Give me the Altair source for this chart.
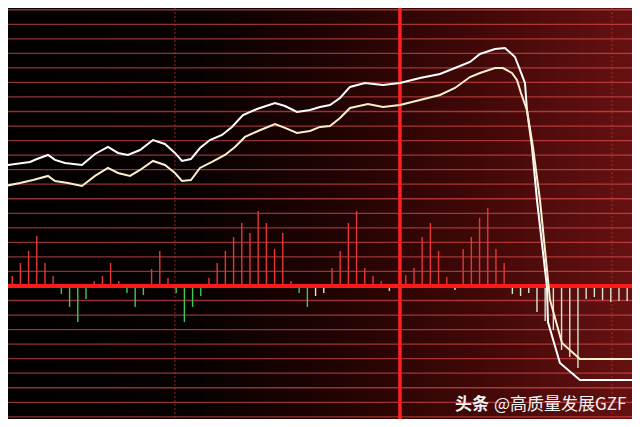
import altair as alt
import pandas as pd

# ---- data ----
# histogram bars, one per minute index (units = grid steps)
bar_values = [5.16, 0.69, 1.58, 2.41, 3.44, 1.58, 0.69, -0.55, -1.44, -2.48,
              -0.89, 0.34, 0.69, 1.58, 0.34, -0.48, -1.44, -0.62, 1.17, 2.41,
              0.55, -0.48, -2.48, -1.44, -0.69, 0.55, 1.58, 2.41, 3.37, 4.33,
              3.65, 5.16, 4.33, 2.54, 3.65, 0.34, -0.48, -1.44, -0.69, -0.48,
              1.24, 2.41, 4.33, 5.16, 1.24, 0.69, 0.34, -0.34, 0.0, 0.76,
              1.24, 3.37, 4.33, 2.41, 0.62, -0.28, 2.54, 3.37, 4.68, 5.36,
              2.54, 1.58, -0.55, -0.69, -0.48, -1.79, -2.41, -3.03, -4.40, -4.88,
              -5.64, -0.89, -0.76, -0.96, -1.10, -1.03, -1.03, -1.17]

upper_t = [-0.49, 3.17, 4.02, 5.37, 6.22, 7.44, 9.51, 11.10, 12.68, 13.90,
           15.12, 16.59, 18.17, 19.63, 20.85, 21.71, 22.80, 23.90, 25.12, 26.59,
           27.80, 29.15, 30.85, 33.05, 34.27, 35.73, 37.32, 38.54, 39.76, 40.98,
           42.20, 44.02, 46.22, 48.29, 50.73, 53.17, 55.00, 56.83, 58.05, 59.88,
           61.10, 62.32, 62.93, 63.54, 63.78, 64.39, 65.00, 66.22, 66.34, 67.80,
           70.24, 77.56]
upper_v = [8.25, 8.53, 8.73, 9.01, 8.67, 8.46, 8.32, 9.08, 9.56, 9.15,
           9.01, 9.35, 10.04, 9.77, 9.15, 8.60, 8.73, 9.49, 10.04, 10.39,
           10.94, 11.76, 12.17, 12.59, 12.38, 11.97, 12.10, 12.31, 12.45, 12.93,
           13.69, 13.96, 13.82, 13.96, 14.31, 14.58, 14.99, 15.41, 15.96, 16.30,
           16.37, 15.75, 14.86, 13.96, 12.10, 9.56, 5.91, -0.07, -2.48, -5.30,
           -6.46, -6.46]

lower_t = [-0.49, 1.95, 3.54, 5.37, 6.22, 7.80, 9.51, 11.10, 12.68, 13.90,
           15.37, 16.59, 18.17, 19.63, 20.85, 21.71, 22.80, 23.90, 25.37, 26.95,
           28.17, 29.39, 30.98, 33.05, 34.27, 35.73, 37.32, 38.54, 39.76, 40.98,
           42.20, 44.39, 46.22, 48.29, 50.73, 53.17, 55.00, 56.83, 58.05, 59.88,
           60.85, 61.95, 62.56, 63.05, 63.78, 64.51, 65.37, 66.59, 68.05, 70.24,
           77.56]
lower_v = [6.81, 7.08, 7.29, 7.57, 7.22, 7.08, 6.88, 7.57, 8.12, 7.77,
           7.57, 7.98, 8.60, 8.32, 7.77, 7.22, 7.29, 8.12, 8.53, 9.01,
           9.56, 10.25, 10.66, 11.14, 10.87, 10.52, 10.66, 10.94, 11.00, 11.55,
           12.24, 12.52, 12.31, 12.45, 12.79, 13.14, 13.62, 14.37, 14.65, 14.99,
           14.99, 14.65, 14.17, 13.27, 12.10, 9.56, 5.91, -0.96, -3.92, -5.02,
           -5.02]

grid_levels = list(range(-9, 20))
zero_level = [0]
divider_t = [48.29]
dotted_t = [20.85, 74.15]
watermark_bold = "头条"
watermark_rest = "@高质量发展GZF"

# ---- chart ----
W, H = 624, 411
xs = alt.Scale(domain=[0.49, 76.59], nice=False, zero=False)
ys = alt.Scale(domain=[-9.15, 19.12], nice=False, zero=False)

bars = pd.DataFrame({"t": list(range(len(bar_values))), "v": bar_values})
bars["base"] = 0.0
bars["kind"] = ["up" if v >= 0 else ("down_g" if t <= 37 else "down_w")
                for t, v in zip(bars["t"], bars["v"])]
up_df = pd.DataFrame({"t": upper_t, "v": upper_v})
lo_df = pd.DataFrame({"t": lower_t, "v": lower_v})
grid_df = pd.DataFrame({"v": grid_levels})
zero_df = pd.DataFrame({"v": zero_level})
div_df = pd.DataFrame({"t": divider_t})
dot_df = pd.DataFrame({"t": dotted_t})
one = pd.DataFrame({"a": [0]})

X = lambda: alt.X("t:Q", scale=xs, axis=None)
Y = lambda: alt.Y("v:Q", scale=ys, axis=None)

bg = alt.Chart(one).mark_rect(
    color=alt.Gradient(
        gradient="linear",
        stops=[alt.GradientStop(color="#030000", offset=0),
               alt.GradientStop(color="#080101", offset=0.3),
               alt.GradientStop(color="#200303", offset=0.52),
               alt.GradientStop(color="#420808", offset=0.76),
               alt.GradientStop(color="#661111", offset=1)],
        x1=0, x2=1, y1=0, y2=0)
).encode(x=alt.value(0), x2=alt.value(W), y=alt.value(0), y2=alt.value(H))

grid = alt.Chart(grid_df).mark_rule(color="#ff5c5c", opacity=0.55, strokeWidth=1.3).encode(y=Y())

dotted = alt.Chart(dot_df).mark_rule(color="#d03030", opacity=0.7, strokeWidth=1,
                                     strokeDash=[2, 2]).encode(x=X())

bar_layer = alt.Chart(bars).mark_rule(strokeWidth=1.4, clip=True).encode(
    x=X(), y=Y(), y2=alt.Y2("base:Q"),
    color=alt.Color("kind:N", legend=None,
                    scale=alt.Scale(domain=["up", "down_g", "down_w"],
                                    range=["#e43838", "#3ec85a", "#d8e6d4"])))

zero_line = alt.Chart(zero_df).mark_rule(color="#ff1a1a", strokeWidth=4).encode(y=Y())

divider = alt.Chart(div_df).mark_rule(color="#ff2020", strokeWidth=3.5).encode(x=X())

upper = alt.Chart(up_df).mark_line(color="#ffffff", strokeWidth=2, clip=True).encode(x=X(), y=Y())
lower = alt.Chart(lo_df).mark_line(color="#f8f0cc", strokeWidth=2, clip=True).encode(x=X(), y=Y())

wm1 = alt.Chart(one).mark_text(text=watermark_bold, font="Noto Sans CJK SC", fontSize=17,
                               fontWeight="bold", color="#f2f2f2", align="left",
                               baseline="middle").encode(x=alt.value(447), y=alt.value(397))
wm2 = alt.Chart(one).mark_text(text=watermark_rest, font="Noto Sans CJK SC", fontSize=17,
                               color="#f2f2f2", align="left",
                               baseline="middle").encode(x=alt.value(486), y=alt.value(397))

chart = alt.layer(bg, grid, dotted, bar_layer, zero_line, divider, upper, lower, wm1, wm2).properties(
    width=W, height=H, padding=0, background="#000000", autosize="none"
).configure_view(strokeWidth=0)

chart.save("out.html", embed_options={"renderer": "svg", "actions": False})
